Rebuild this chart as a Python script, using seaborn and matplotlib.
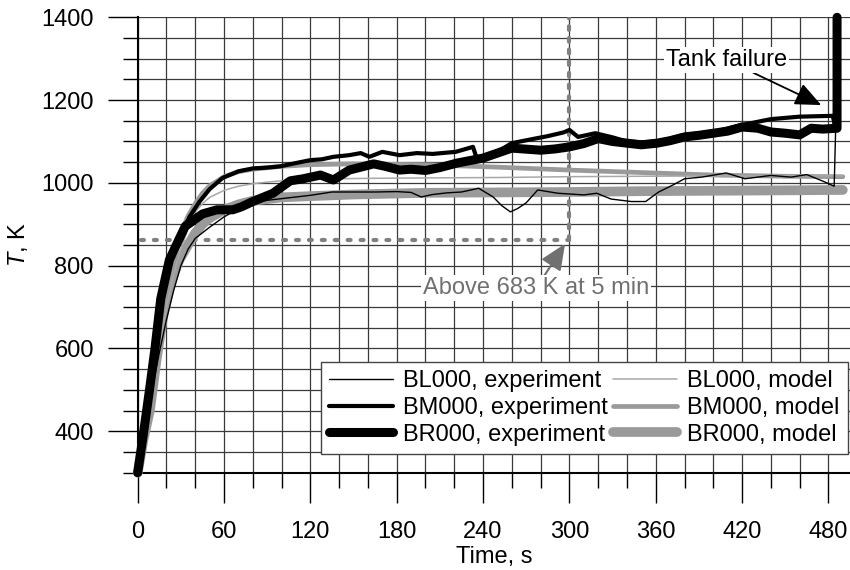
import matplotlib
matplotlib.use("Agg")
import matplotlib.pyplot as plt
from matplotlib.ticker import MultipleLocator
import seaborn as sns
import numpy as np

# ---------------- data ----------------
bl_exp_t = [0, 5, 10, 15, 20, 25, 30, 35, 40, 50, 60, 70, 80, 90, 100, 110, 120, 135, 150,
            165, 180, 190, 197, 205, 215, 225, 237, 247, 253, 259, 264, 270, 278, 292, 310,
            319, 329, 343, 353, 362, 372, 380, 392, 409, 422, 440, 454, 465, 477, 484, 485]
bl_exp_T = [300, 400, 500, 590, 670, 740, 800, 840, 866, 893, 918, 937, 951, 958, 962, 966,
            970, 978, 978, 978, 979, 977, 966, 972, 976, 978, 987, 966, 945, 930, 938, 952,
            983, 975, 971, 975, 961, 955, 955, 978, 995, 1010, 1014, 1024, 1010, 1018, 1014,
            1020, 1003, 992, 1125]

bm_exp_t = [0, 4, 8, 12, 16, 22, 29, 36, 43, 50, 59, 70, 80, 90, 99, 110, 120, 128, 136, 147,
            155, 161, 170, 182, 194, 205, 221, 233, 236, 245, 260, 276, 285, 296, 300, 306,
            318, 330, 340, 350, 362, 380, 400, 420, 440, 460, 483, 485]
bm_exp_T = [300, 400, 500, 600, 725, 814, 866, 918, 955, 985, 1012, 1028, 1035, 1037, 1040,
            1048, 1055, 1057, 1063, 1067, 1072, 1063, 1075, 1067, 1072, 1070, 1075, 1087, 1055,
            1065, 1096, 1107, 1113, 1122, 1128, 1111, 1120, 1110, 1100, 1098, 1100, 1116, 1123,
            1140, 1154, 1160, 1162, 1132]

br_exp_t = [0, 4, 8, 12, 16, 22, 29, 33, 39, 45, 55, 66, 72, 80, 94, 106, 115, 127, 136, 147,
            155, 164, 172, 182, 190, 200, 210, 222, 240, 260, 280, 290, 300, 310, 320, 330,
            340, 350, 361, 370, 380, 390, 400, 410, 420, 431, 440, 450, 460, 468, 476, 486, 486]
br_exp_T = [300, 395, 495, 600, 720, 814, 866, 895, 910, 925, 935, 935, 942, 955, 975, 1005,
            1010, 1019, 1007, 1031, 1038, 1046, 1040, 1031, 1033, 1030, 1037, 1048, 1060, 1084,
            1079, 1082, 1087, 1095, 1107, 1100, 1096, 1092, 1096, 1102, 1111, 1115, 1120, 1125,
            1135, 1132, 1123, 1120, 1116, 1132, 1130, 1132, 1400]

bl_mod_t = [0, 5, 10, 15, 20, 25, 30, 35, 40, 45, 50, 60, 70, 80, 90, 100, 120, 140, 160, 200,
            250, 300, 350, 400, 450, 490]
bl_mod_T = [300, 400, 500, 600, 700, 780, 840, 890, 930, 950, 965, 982, 992, 998, 1002, 1005,
            1008, 1010, 1011, 1012, 1013, 1015, 1016, 1017, 1017, 1017]

bm_mod_t = [0, 5, 10, 15, 20, 25, 30, 35, 40, 45, 50, 60, 70, 80, 100, 120, 150, 200, 250, 300,
            350, 400, 450, 490]
bm_mod_T = [300, 430, 560, 670, 760, 830, 880, 920, 950, 975, 993, 1015, 1027, 1033, 1040, 1044,
            1046, 1044, 1038, 1031, 1025, 1019, 1016, 1015]

br_mod_t = [0, 4, 8.5, 13, 17.6, 23, 29, 35, 40, 45, 50, 60, 70, 80, 100, 120, 150, 200, 250,
            300, 350, 400, 450, 490]
br_mod_T = [300, 380, 451, 570, 676, 760, 814, 850, 879, 900, 915, 935, 948, 957, 965, 968, 972,
            976, 977, 978, 980, 981, 982, 983]

threshold_t = 300
threshold_T = 863

x_ticks = [0, 60, 120, 180, 240, 300, 360, 420, 480]
y_ticks = [400, 600, 800, 1000, 1200, 1400]

# ---------------- style ----------------
sns.set_style("white")
plt.rcParams['font.family'] = ['Liberation Sans', 'DejaVu Sans']
plt.rcParams['mathtext.fontset'] = 'custom'
plt.rcParams['mathtext.it'] = 'Liberation Sans:italic'
plt.rcParams['mathtext.rm'] = 'Liberation Sans'
for k in ['text.color', 'axes.labelcolor', 'xtick.color', 'ytick.color',
          'xtick.labelcolor', 'ytick.labelcolor']:
    plt.rcParams[k] = 'black'

FS = 17

fig = plt.figure(figsize=(8.5, 5.7), dpi=100)
ax = fig.add_axes([137.7 / 850, 1 - 472.7 / 570, (850 - 137.7) / 850, (472.7 - 17.3) / 570])

gray = '#9a9a9a'
common = dict(estimator=None, sort=False, ax=ax, clip_on=False,
              solid_capstyle='round', solid_joinstyle='round')

sns.lineplot(x=br_mod_t, y=br_mod_T, color=gray, lw=7, label='BR000, model', zorder=3, **common)
sns.lineplot(x=bm_mod_t, y=bm_mod_T, color=gray, lw=3.4, label='BM000, model', zorder=3, **common)
sns.lineplot(x=bl_mod_t, y=bl_mod_T, color='#a8a8a8', lw=1.1, label='BL000, model', zorder=3, **common)
sns.lineplot(x=br_exp_t, y=br_exp_T, color='black', lw=6.5, label='BR000, experiment', zorder=4, **common)
sns.lineplot(x=bm_exp_t, y=bm_exp_T, color='black', lw=3.0, label='BM000, experiment', zorder=4, **common)
sns.lineplot(x=bl_exp_t, y=bl_exp_T, color='black', lw=1.0, label='BL000, experiment', zorder=5, **common)

# threshold guides
ax.plot([2, threshold_t], [threshold_T, threshold_T], color='#808080', lw=3,
        linestyle=(0, (0.7, 2.4)), dash_capstyle='round', zorder=2.5)
ax.plot([threshold_t, threshold_t], [threshold_T, 1400], color='#808080', lw=3,
        linestyle=(0, (0.9, 1.9)), dash_capstyle='round', zorder=2.5)

# axes
ax.set_xlim(0, 495)
ax.set_ylim(300, 1400)
ax.set_xticks(x_ticks)
ax.set_yticks(y_ticks)
ax.xaxis.set_minor_locator(MultipleLocator(20))
ax.yaxis.set_minor_locator(MultipleLocator(50))
ax.grid(True, which='both', color='#3a3a3a', lw=0.9)
ax.set_axisbelow(True)
ax.tick_params(which='major', direction='out', length=21.6, width=1.0, color='black',
               labelsize=FS, labelcolor='black', bottom=True, left=True)
ax.tick_params(which='minor', direction='out', length=10.8, width=1.0, color='black',
               bottom=True, left=True)
ax.tick_params(axis='x', which='major', pad=13)
ax.tick_params(axis='y', which='major', pad=10)
for s in ['top', 'right']:
    ax.spines[s].set_visible(False)
for s in ['left', 'bottom']:
    ax.spines[s].set_color('black')
    ax.spines[s].set_linewidth(1.5)

ax.set_xlabel('Time, s', fontsize=FS, labelpad=2, color='black')
ax.set_ylabel('$T$, K', fontsize=FS, labelpad=8, color='black')

# annotations
ax.annotate('Above 683 K at 5 min', xy=(297, 853), xytext=(277, 746),
            ha='center', va='center', fontsize=FS, color='#707070',
            bbox=dict(boxstyle='square,pad=0.08', fc='white', ec='none'),
            arrowprops=dict(arrowstyle='-|>,head_length=0.8,head_width=0.35', color='#707070',
                            lw=1.5, mutation_scale=20, shrinkA=0, shrinkB=0), zorder=6)
ax.annotate('Tank failure', xy=(475, 1188), xytext=(409, 1297),
            ha='center', va='center', fontsize=FS, color='black',
            bbox=dict(boxstyle='square,pad=0.08', fc='white', ec='none'),
            arrowprops=dict(arrowstyle='-|>,head_length=0.8,head_width=0.35', color='black',
                            lw=1.3, mutation_scale=20, shrinkA=0, shrinkB=0), zorder=6)

# legend
h, l = ax.get_legend_handles_labels()
order = ['BL000, experiment', 'BM000, experiment', 'BR000, experiment',
         'BL000, model', 'BM000, model', 'BR000, model']
hd = dict(zip(l, h))
leg = ax.legend([hd[k] for k in order], order, ncol=2, loc='upper right',
                bbox_to_anchor=(848 / 850, 1 - 362 / 570), bbox_transform=fig.transFigure,
                borderaxespad=0, fontsize=FS, handlelength=2.7, handletextpad=0.45,
                columnspacing=0.2, labelspacing=0.2, borderpad=0.35,
                fancybox=False, framealpha=1, edgecolor='#444444')
leg.get_frame().set_linewidth(1.0)
leg.set_zorder(7)
for t in leg.get_texts():
    t.set_color('black')

fig.savefig('out.png', dpi=100)
